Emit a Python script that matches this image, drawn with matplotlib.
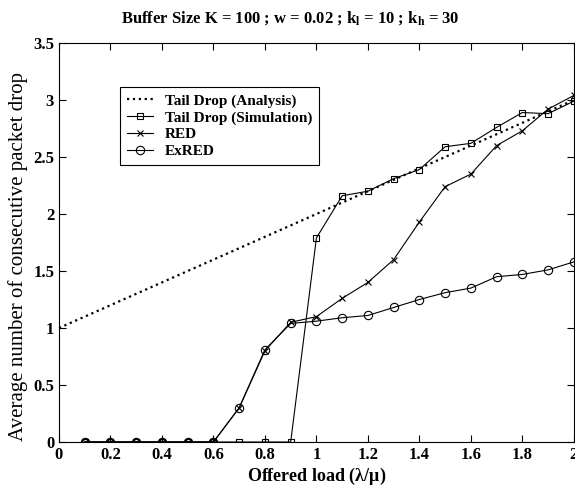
import matplotlib
matplotlib.use("Agg")
import numpy as np
import matplotlib.pyplot as plt

plt.rcParams['font.family'] = ['Liberation Serif', 'DejaVu Serif']
plt.rcParams['font.weight'] = 'bold'
plt.rcParams['mathtext.default'] = 'regular'

# Veriler
load = [0.1, 0.2, 0.3, 0.4, 0.5, 0.6, 0.7, 0.8, 0.9, 1.0,
        1.1, 1.2, 1.3, 1.4, 1.5, 1.6, 1.7, 1.8, 1.9, 2.0]
analysis_x = [0.0, 2.0]
analysis_y = [1.0, 3.0]
tail_sim = [0, 0, 0, 0, 0, 0, 0, 0, 0, 1.79,
            2.16, 2.20, 2.31, 2.39, 2.59, 2.62, 2.76, 2.89, 2.88, 2.99]
red = [0, 0, 0, 0, 0, 0, 0.30, 0.80, 1.05, 1.10,
       1.26, 1.40, 1.60, 1.93, 2.24, 2.35, 2.60, 2.73, 2.92, 3.04]
exred = [0, 0, 0, 0, 0, 0, 0.30, 0.81, 1.04, 1.06,
         1.09, 1.11, 1.18, 1.25, 1.31, 1.35, 1.45, 1.47, 1.51, 1.58]

xticks = [0, 0.2, 0.4, 0.6, 0.8, 1, 1.2, 1.4, 1.6, 1.8, 2]
xtick_labels = ['0', '0.2', '0.4', '0.6', '0.8', '1', '1.2', '1.4', '1.6', '1.8', '2']
yticks = [0, 0.5, 1, 1.5, 2, 2.5, 3, 3.5]
ytick_labels = ['0', '0.5', '1', '1.5', '2', '2.5', '3', '3.5']

fig = plt.figure(figsize=(5.75, 4.92), dpi=100)
ax = fig.add_axes([0.1026, 0.1016, 0.8954, 0.811])

ax.plot(analysis_x, analysis_y, ':', color='black', lw=1.6, label='Tail Drop (Analysis)')
ax.plot(load, tail_sim, '-s', color='black', lw=0.8, ms=5, mfc='none', mew=0.8,
        label='Tail Drop (Simulation)')
ax.plot(load, red, '-x', color='black', lw=0.8, ms=4, mew=0.8, label='RED')
ax.plot(load, exred, '-o', color='black', lw=0.8, ms=6, mfc='none', mew=0.8, label='ExRED')

ax.set_xlim(0, 2)
ax.set_ylim(0, 3.5)
ax.set_xticks(xticks)
ax.set_xticklabels(xtick_labels)
ax.set_yticks(yticks)
ax.set_yticklabels(ytick_labels)
ax.tick_params(direction='in', top=True, right=True, labelsize=12, length=5)
for s in ax.spines.values():
    s.set_linewidth(0.8)

ax.set_xlabel(r'Offered load ($\lambda/\mu$)', fontsize=13, fontweight='bold', labelpad=2)
ax.set_ylabel('Average number of consecutive packet drop', fontsize=15,
              fontweight='normal')
ax.yaxis.set_label_coords(-0.060, 0.464)
ax.set_title('Buffer Size K = 100 ; w = 0.02 ; k$_{l}$ = 10 ; k$_{h}$ = 30',
             fontsize=12, fontweight='bold', pad=15, x=0.449)

leg = ax.legend(loc='upper left', bbox_to_anchor=(0.118, 0.89), fontsize=11,
                fancybox=False, edgecolor='black', framealpha=1, borderaxespad=0,
                handlelength=1.7, borderpad=0.45, labelspacing=0.2)
leg.get_frame().set_linewidth(0.8)

fig.savefig('out.png', dpi=100)
